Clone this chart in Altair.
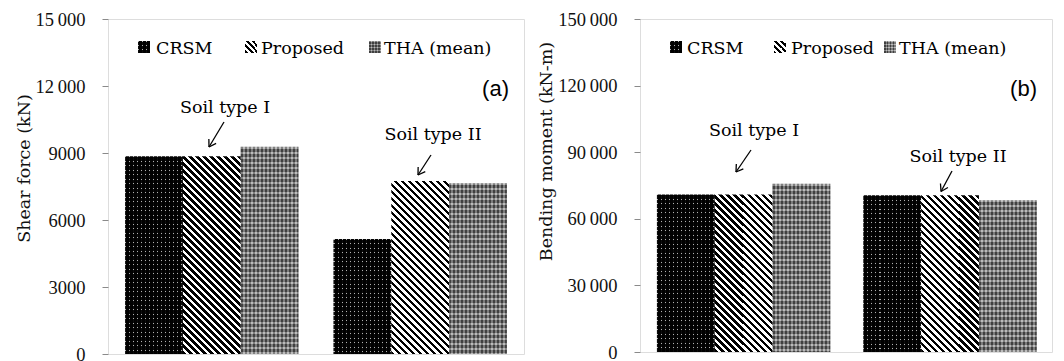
import altair as alt
import pandas as pd
import numpy as np

# ---------------- data ----------------
categories = ["Soil type I", "Soil type II"]
methods = ["CRSM", "Proposed", "THA (mean)"]

shear_crsm = [8850, 5150]
shear_proposed = [8850, 7750]
shear_tha = [9280, 7650]

moment_crsm = [71000, 70600]
moment_proposed = [71000, 70600]
moment_tha = [75800, 68300]

shear_ticks = [0, 3000, 6000, 9000, 12000, 15000]
moment_ticks = [0, 30000, 60000, 90000, 120000, 150000]

y_titles = ["Shear force (kN)", "Bending moment (kN-m)"]
panel_tags = ["(a)", "(b)"]
annotation_labels = ["Soil type I", "Soil type II"]

# ---------------- style / layout ----------------
SERIF = "DejaVu Serif"
NUMF = "Liberation Serif"
SANS = "Liberation Sans"
PI, PO = 0.168, 0.082
FRAME = "#8a8a8a"


def stops_from(pattern, n):
    stops = []
    k = 0
    while k / n < 1:
        acc = k / n
        for color, frac in pattern:
            start = acc
            end = min(acc + frac / n, 1.0)
            stops.append(alt.GradientStop(color=color, offset=round(start, 6)))
            stops.append(alt.GradientStop(color=color, offset=round(end, 6)))
            acc += frac / n
            if acc >= 1:
                break
        k += 1
    return stops


def grad_diag(w, h, pattern, period):
    n = (w + h) / period
    s = (w + h) / (w * w + h * h)
    return alt.LinearGradient(gradient="linear", stops=stops_from(pattern, n),
                              x1=0, y1=1, x2=round(s * w, 6), y2=round(1 - s * h, 6))


def grad_x(w, pattern, period):
    return alt.LinearGradient(gradient="linear", stops=stops_from(pattern, w / period),
                              x1=0, y1=0, x2=1, y2=0)


def grad_y(h, pattern, period):
    return alt.LinearGradient(gradient="linear", stops=stops_from(pattern, h / period),
                              x1=0, y1=0, x2=0, y2=1)


CRSM_COLS = [("#b0b0b0", 0.25), ("#030303", 0.75)]
CRSM_ROWS = [("rgba(0,0,0,0)", 0.22), ("rgba(0,0,0,0.93)", 0.78)]
PROP = [("#000000", 0.5), ("#ffffff", 0.5)]
THA_COLS = [("#555555", 0.5), ("#a6a6a6", 0.5)]
THA_ROWS = [("rgba(255,255,255,0.25)", 0.4), ("rgba(0,0,0,0.25)", 0.6)]

one = pd.DataFrame({"k": [0]})


def value_rule(x, y, x2, y2):
    return alt.Chart(one).mark_rule(color="black", strokeWidth=1.3).encode(
        x=alt.value(x), y=alt.value(y), x2=alt.value(x2), y2=alt.value(y2))


def value_rect(x, y, size, fill):
    return alt.Chart(one).mark_rect(fill=fill, strokeWidth=0).encode(
        x=alt.value(x), y=alt.value(y), x2=alt.value(x + size), y2=alt.value(y + size))


def value_text(label, x, y, font, size, align="left", baseline="alphabetic"):
    return alt.Chart(pd.DataFrame({"label": [label]})).mark_text(
        font=font, fontSize=size, align=align, baseline=baseline, color="black"
    ).encode(x=alt.value(x), y=alt.value(y), text="label:N")


def arrow(tail, tip):
    tail = np.array(tail, float)
    tip = np.array(tip, float)
    u = (tail - tip) / np.linalg.norm(tail - tip)
    parts = [value_rule(tail[0], tail[1], tip[0], tip[1])]
    for ang in (np.radians(32), -np.radians(32)):
        r = np.array([u[0] * np.cos(ang) - u[1] * np.sin(ang), u[0] * np.sin(ang) + u[1] * np.cos(ang)])
        e = tip + 8 * r
        parts.append(value_rule(tip[0], tip[1], e[0], e[1]))
    return parts


def panel(crsm, prop, tha, ticks, ytitle, tag, pw, ph, title_y, layout):
    ymax = ticks[-1]
    df = pd.DataFrame({
        "category": categories * 3,
        "method": [m for m in methods for _ in categories],
        "value": list(crsm) + list(prop) + list(tha),
    })
    step = pw / (len(categories) - PI + 2 * PO)
    w = step * (1 - PI) / len(methods)
    yaxis = alt.Axis(
        values=ticks, title=ytitle, titleY=title_y, titlePadding=2,
        labelExpr="datum.value >= 10000 ? replace(format(datum.value, ','), ',', '\u2009') : format(datum.value, 'd')",
        tickSize=6, labelPadding=17, domain=False, grid=False, tickColor=FRAME,
        labelFont=NUMF, labelFontSize=18.5, labelColor="#111111",
        titleFont=SERIF, titleFontSize=17.5, titleFontWeight="normal", titleColor="#111111",
    )
    enc = dict(
        x=alt.X("category:N", sort=categories, axis=None,
                scale=alt.Scale(domain=categories, paddingInner=PI, paddingOuter=PO)),
        xOffset=alt.XOffset("method:N", sort=methods,
                            scale=alt.Scale(domain=methods, paddingInner=0, paddingOuter=0)),
        y=alt.Y("value:Q", axis=yaxis, scale=alt.Scale(domain=[0, ymax], nice=False, zero=True)),
    )
    base = alt.Chart(df)
    layers = []
    layers.append(base.transform_filter(alt.datum.method == "CRSM")
                  .mark_bar(fill=grad_x(w, CRSM_COLS, 4.0), strokeWidth=0).encode(**enc))
    layers.append(base.transform_filter(alt.datum.method == "THA (mean)")
                  .mark_bar(fill=grad_x(w, THA_COLS, 4.0), strokeWidth=0).encode(**enc))
    for i, cat in enumerate(categories):
        h_c = crsm[i] / ymax * ph
        h_p = prop[i] / ymax * ph
        h_t = tha[i] / ymax * ph
        layers.append(base.transform_filter((alt.datum.method == "CRSM") & (alt.datum.category == cat))
                      .mark_bar(fill=grad_y(h_c, CRSM_ROWS, 4.5), strokeWidth=0).encode(**enc))
        layers.append(base.transform_filter((alt.datum.method == "Proposed") & (alt.datum.category == cat))
                      .mark_bar(fill=grad_diag(w, h_p, PROP, 7.0), strokeWidth=0).encode(**enc))
        layers.append(base.transform_filter((alt.datum.method == "THA (mean)") & (alt.datum.category == cat))
                      .mark_bar(fill=grad_y(h_t, THA_ROWS, 5.0), strokeWidth=0).encode(**enc))

    # legend (drawn inside the plot, as in the reference)
    sym_x, txt_x, sym_y, txt_y = layout["legend"]
    s = 12
    layers.append(value_rect(sym_x[0], sym_y, s, grad_x(s, CRSM_COLS, 4.0)))
    layers.append(value_rect(sym_x[0], sym_y, s, grad_y(s, CRSM_ROWS, 4.0)))
    layers.append(value_rect(sym_x[1], sym_y, s, grad_diag(s, s, PROP, 6.0)))
    layers.append(value_rect(sym_x[2], sym_y, s, grad_x(s, THA_COLS, 3.0)))
    layers.append(value_rect(sym_x[2], sym_y, s, grad_y(s, THA_ROWS, 3.0)))
    for m, tx in zip(methods, txt_x):
        layers.append(value_text(m, tx, txt_y, SERIF, 17.5))

    # panel tag
    tx, ty = layout["tag"]
    layers.append(value_text(tag, tx, ty, SANS, 22, align="right"))

    # annotations with arrows
    for label, (cx, cy), tail, tip in zip(annotation_labels, layout["ann_text"],
                                          layout["ann_tail"], layout["ann_tip"]):
        layers.append(value_text(label, cx, cy, SERIF, 17.5, align="center"))
        layers.extend(arrow(tail, tip))

    return alt.layer(*layers).properties(width=pw, height=ph)


left_layout = {
    "legend": ([30, 137, 261], [48, 153, 276], 22, 35),
    "tag": (401, 77),
    "ann_text": [(117, 94), (325, 121)],
    "ann_tail": [(116, 103), (323, 136)],
    "ann_tip": [(101, 128), (310, 156)],
}
right_layout = {
    "legend": ([30, 134, 244], [47, 151, 259], 22, 35),
    "tag": (397, 77),
    "ann_text": [(114, 117), (318, 143)],
    "ann_tail": [(111, 131), (312, 152)],
    "ann_tip": [(96, 153), (301, 172.5)],
}

left = panel(shear_crsm, shear_proposed, shear_tha, shear_ticks, y_titles[0], panel_tags[0],
             416, 335, 149, left_layout)
right = panel(moment_crsm, moment_proposed, moment_tha, moment_ticks, y_titles[1], panel_tags[1],
              412, 333, 132, right_layout)

chart = alt.hconcat(left, right, spacing=12).properties(
    padding={"left": 14, "top": 9, "right": 0, "bottom": 0}
).configure_view(stroke=FRAME, strokeWidth=1).configure(background="white")

chart.save("out.html", embed_options={"renderer": "svg", "actions": False})
